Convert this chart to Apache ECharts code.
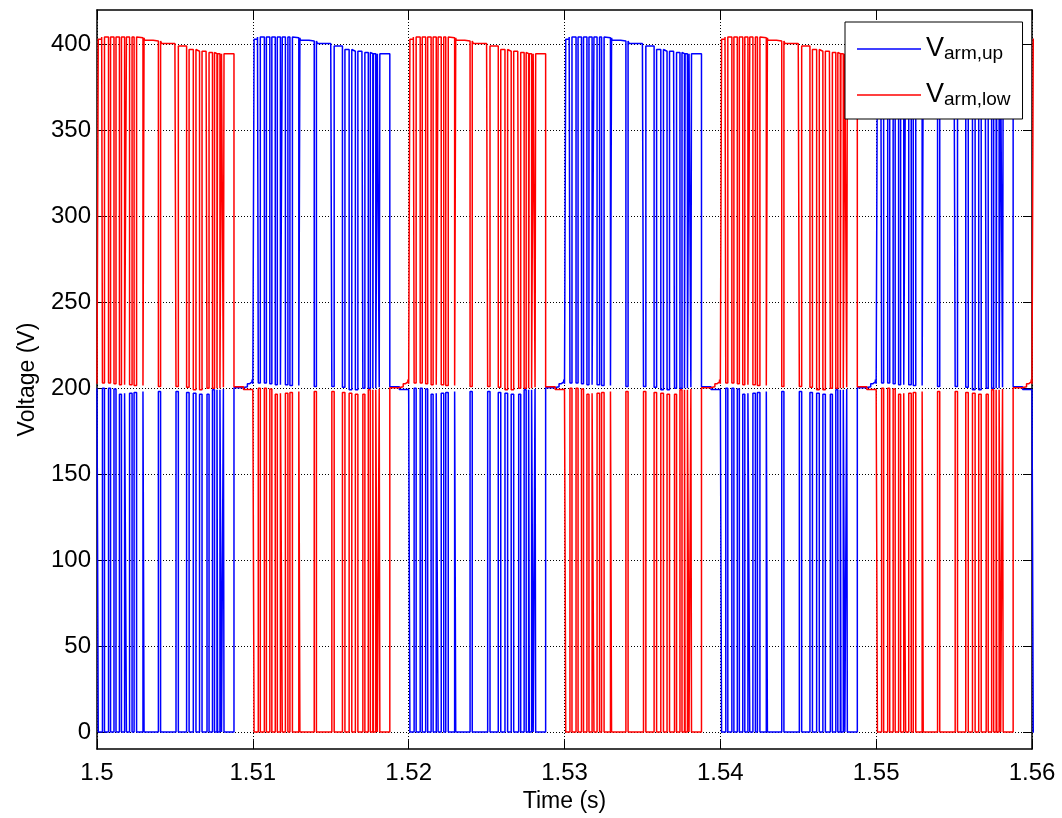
<!DOCTYPE html>
<html><head><meta charset="utf-8">
<script src="https://cdn.jsdelivr.net/npm/echarts@6/dist/echarts.min.js"></script>
<style>html,body{margin:0;padding:0;background:#fff}#c{width:1062px;height:818px}</style>
</head><body><div id="c"></div>
<script>
// ---- axis ticks ----
const xTicks = [1.5, 1.51, 1.52, 1.53, 1.54, 1.55, 1.56];
const yTicks = [0, 50, 100, 150, 200, 250, 300, 350, 400];

// ---- half-cycle layout (s) and which role each arm plays ----
const halfStarts = [1.50, 1.51, 1.52, 1.53, 1.54, 1.55, 1.56];
const halfLengthMs = 10;
const blueRoles = ['passive', 'active', 'passive', 'active', 'passive', 'active', 'passive'];
const redRoles  = ['active', 'passive', 'active', 'passive', 'active', 'passive', 'active'];

// ---- switching pulses (ms from half-cycle start) ----
const dipStartMs = [0.00, 0.35, 0.74, 1.09, 1.44, 1.77, 2.09, 2.38, 2.95, 3.94, 5.07, 5.75, 6.18, 6.58, 7.06, 7.41, 7.70, 7.89, 8.11];
const dipEndMs   = [0.08, 0.48, 0.87, 1.22, 1.57, 1.89, 2.25, 2.54, 3.02, 4.08, 5.22, 5.91, 6.35, 6.74, 7.19, 7.54, 7.74, 7.99, 8.15];
// level of the active arm (upper band) during each dip (V)
const dipLevelV  = [202.5, 203, 203, 202.5, 202, 202, 202, 201.5, 201.5, 201, 201, 200.5, 199, 199, 200, 200, 200, 200, 200.5];
// level of the passive arm (lower band) during each pulse (V)
const passivePulseV = [200, 200, 200, 199.5, 196.5, 197, 197, 197.5, 198, 198, 198, 197.5, 197, 196.5, 196.5, 199, 199, 199, 199.5];
const passiveLowV = 0;

// high level of the active arm (capacitor ripple), step breakpoints
const highEnvMs = [0.00, 0.30, 2.55, 3.05, 3.60, 4.15, 5.00, 5.85, 6.40, 7.00, 7.60];
const highEnvV  = [403.0, 404.3, 403.8, 402.4, 401.9, 400.5, 399.0, 397.0, 396.0, 395.3, 394.6];

// tail at the end of every half cycle (both arms near 200 V)
const tailStartMs = 8.79;
const activeTailMs = [8.79, 9.40];
const activeTailV  = [200.8, 199.2];
const passiveTailMs = [8.79, 9.35, 9.65, 9.80, 9.95];
const passiveTailV  = [200.2, 200.8, 202.6, 203.6, 205.0];

function stepLookup(ms, xs, vs) {
  let v = vs[0];
  for (let i = 0; i < xs.length; i++) if (xs[i] <= ms) v = vs[i];
  return v;
}
function levelAt(role, ms) {
  if (ms >= tailStartMs) {
    return role === 'active' ? stepLookup(ms, activeTailMs, activeTailV)
                             : stepLookup(ms, passiveTailMs, passiveTailV);
  }
  for (let k = 0; k < dipStartMs.length; k++) {
    if (ms >= dipStartMs[k] && ms < dipEndMs[k]) {
      return role === 'active' ? dipLevelV[k] : passivePulseV[k];
    }
  }
  return role === 'active' ? stepLookup(ms, highEnvMs, highEnvV) : passiveLowV;
}
function buildArm(roles) {
  const pts = [];
  roles.forEach((role, h) => {
    const t0 = halfStarts[h];
    const set = new Set([0, halfLengthMs, tailStartMs].concat(dipStartMs, dipEndMs,
      role === 'active' ? highEnvMs.concat(activeTailMs) : passiveTailMs));
    const bps = [...set].filter(v => v >= 0 && v <= halfLengthMs).sort((a, b) => a - b);
    for (let i = 0; i < bps.length - 1; i++) {
      const a = bps[i], b = bps[i + 1];
      const v = levelAt(role, (a + b) / 2);
      pts.push([t0 + a / 1000, v], [t0 + b / 1000, v]);
    }
  });
  return pts;
}

const FONT = 'Liberation Sans, Arial, Helvetica, sans-serif';
const chart = echarts.init(document.getElementById('c'), null, {renderer: 'canvas'});
const axisLineStyle = {color: '#000', width: 1.5};
const gridLine = {show: true, lineStyle: {color: '#000', width: 1, type: [1, 2]}};
const xFmt = v => String(+(+v).toFixed(2));

chart.setOption({
  animation: false,
  backgroundColor: '#fff',
  grid: {left: 97, top: 10, width: 935, height: 740, containLabel: false},
  legend: {
    orient: 'vertical', left: 845, top: 22,
    padding: [0, 12, 10, 12], itemGap: 5, itemWidth: 64, itemHeight: 1.5,
    icon: 'rect',
    backgroundColor: '#fff', borderColor: '#000', borderWidth: 1,
    data: ['Varm,up', 'Varm,low'],
    formatter: name => '{v|V}{s|' + name.slice(1) + '}',
    textStyle: {
      color: '#000', fontFamily: FONT,
      rich: {
        v: {fontSize: 27, lineHeight: 28, verticalAlign: 'top', fontFamily: FONT, color: '#000'},
        s: {fontSize: 19, lineHeight: 20, padding: [22, 0, 0, 0], verticalAlign: 'bottom', fontFamily: FONT, color: '#000'}
      }
    }
  },
  xAxis: [
    {
      type: 'value', min: 1.5, max: 1.56, interval: 0.01, position: 'bottom',
      axisLine: {onZero: false, lineStyle: axisLineStyle},
      axisTick: {inside: true, length: 9, lineStyle: {color: '#000', width: 1}},
      axisLabel: {formatter: xFmt, color: '#000', fontSize: 24, fontFamily: FONT, margin: 12},
      splitLine: gridLine,
      name: 'Time (s)', nameLocation: 'middle', nameGap: 40,
      nameTextStyle: {color: '#000', fontSize: 23, fontFamily: FONT}
    },
    {
      type: 'value', min: 1.5, max: 1.56, interval: 0.01, position: 'top',
      axisLine: {onZero: false, lineStyle: axisLineStyle},
      axisTick: {inside: true, length: 9, lineStyle: {color: '#000', width: 1}},
      axisLabel: {show: false}, splitLine: {show: false}
    }
  ],
  yAxis: [
    {
      type: 'value', min: -10, max: 420, splitNumber: 9, position: 'left',
      axisLine: {show: true, onZero: false, lineStyle: axisLineStyle},
      axisTick: {show: true, inside: true, length: 9, customValues: yTicks, lineStyle: {color: '#000', width: 1}},
      axisLabel: {customValues: yTicks, color: '#000', fontSize: 24, fontFamily: FONT, margin: 6},
      splitLine: gridLine,
      name: 'Voltage (V)', nameLocation: 'middle', nameGap: 58, nameRotate: 90,
      nameTextStyle: {color: '#000', fontSize: 23, fontFamily: FONT}
    },
    {
      type: 'value', min: -10, max: 420, splitNumber: 9, position: 'right',
      axisLine: {show: true, onZero: false, lineStyle: axisLineStyle},
      axisTick: {show: true, inside: true, length: 9, customValues: yTicks, lineStyle: {color: '#000', width: 1}},
      axisLabel: {show: false}, splitLine: {show: false}
    }
  ],
  series: [
    {
      name: 'Varm,up', type: 'line', xAxisIndex: 0, yAxisIndex: 0,
      data: buildArm(blueRoles), symbol: 'none', showSymbol: false, clip: true,
      color: '#0000ff', lineStyle: {color: '#0000ff', width: 1.5}
    },
    {
      name: 'Varm,low', type: 'line', xAxisIndex: 0, yAxisIndex: 0,
      data: buildArm(redRoles), symbol: 'none', showSymbol: false, clip: true,
      color: '#ff0000', lineStyle: {color: '#ff0000', width: 1.5}
    }
  ]
});
</script></body></html>
